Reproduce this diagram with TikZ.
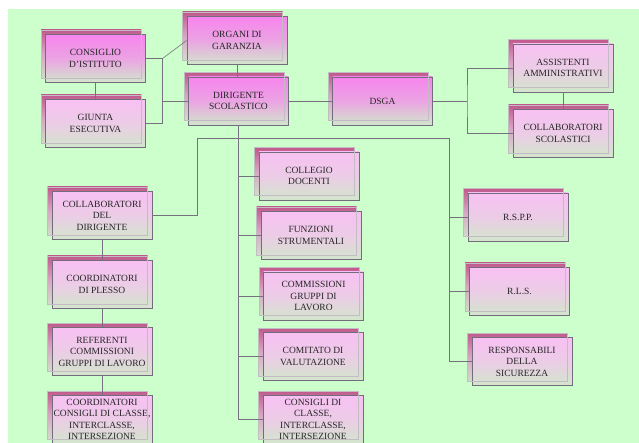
\documentclass[tikz,border=0pt]{standalone}
\usepackage{fontspec}
\setmainfont{Liberation Serif}
\definecolor{bgc}{HTML}{CCFFCC}
\definecolor{majtop}{HTML}{F784EE}
\definecolor{mintop}{HTML}{F8C0F3}
\definecolor{boxbot}{HTML}{D2E6CC}
\definecolor{backtop}{HTML}{C05A8C}
\definecolor{backmid}{HTML}{D8A6C4}
\definecolor{backbot}{HTML}{D2DCCA}
\definecolor{backline}{HTML}{C4BCC4}
\definecolor{bordc}{HTML}{736C7C}
\definecolor{linec}{HTML}{77707F}
\definecolor{txtc}{HTML}{262626}
\tikzset{
  ubox/.style={minimum width=100pt, minimum height=48pt, inner sep=0pt, align=center,
    font=\fontsize{9.5}{11.5}\selectfont, text=txtc, draw=bordc, line width=0.7pt},
  conn/.style={draw=linec, line width=0.6pt},
}
\newcommand\mkbox[5]{%
  \shade[top color=backtop, bottom color=backbot, middle color=backmid] (#2-54.5,#3-28.5) rectangle ++(100,48);
  \node[ubox, top color=#4, bottom color=boxbot, middle color=#4!68!boxbot] (#1) at (#2,#3) {#5};
  \draw[backline, line width=0.5pt] (#2-54.5,#3-28.5) rectangle ++(100,48);
}
\begin{document}
\begin{tikzpicture}[x=1pt,y=-1pt]
\useasboundingbox (0,0) rectangle (639,443);
\fill[white] (0,0) rectangle (639,443);
\fill[bgc] (8,9) rectangle (639,443);

\mkbox{cons}{95.5}{58.5}{majtop}{CONSIGLIO\\D’ISTITUTO}
\mkbox{giunta}{95.5}{123.5}{mintop}{GIUNTA\\ESECUTIVA}
\mkbox{org}{237}{40.5}{majtop}{ORGANI DI\\GARANZIA}
\mkbox{dir}{238.5}{101}{majtop}{DIRIGENTE\\SCOLASTICO}
\mkbox{dsga}{382.5}{101}{majtop}{DSGA}
\mkbox{ass}{563}{68}{mintop}{ASSISTENTI\\AMMINISTRATIVI}
\mkbox{cs}{563}{133.5}{mintop}{COLLABORATORI\\SCOLASTICI}
\mkbox{coll}{309}{176}{mintop}{COLLEGIO\\DOCENTI}
\mkbox{fun}{311}{235.5}{mintop}{FUNZIONI\\STRUMENTALI}
\mkbox{com}{313.5}{296}{mintop}{COMMISSIONI\\GRUPPI DI\\LAVORO}
\mkbox{cval}{313}{356.5}{mintop}{COMITATO DI\\VALUTAZIONE}
\mkbox{cdc}{313}{419.5}{mintop}{CONSIGLI DI\\CLASSE,\\INTERCLASSE,\\INTERSEZIONE}
\mkbox{cdir}{102}{215.5}{mintop}{COLLABORATORI\\DEL\\DIRIGENTE}
\mkbox{cpl}{102}{284.5}{mintop}{COORDINATORI\\DI PLESSO}
\mkbox{ref}{102}{351.5}{mintop}{REFERENTI\\COMMISSIONI\\GRUPPI DI LAVORO}
\mkbox{ccc}{102}{419.5}{mintop}{COORDINATORI\\CONSIGLI DI CLASSE,\\INTERCLASSE,\\INTERSEZIONE}
\mkbox{rspp}{518}{217}{mintop}{R.S.P.P.}
\mkbox{rls}{519.5}{291.5}{mintop}{R.L.S.}
\mkbox{resp}{522}{361.5}{mintop}{RESPONSABILI\\DELLA\\SICUREZZA}

% left group
\coordinate (jl) at (162.5,58.5);
\draw[conn] (cons.east) -- (jl) -- (org.west);
\draw[conn] (jl) |- (giunta.east);
\draw[conn] (dir.west -| jl) -- (dir.west);
\draw[conn] (cons.south) -- (giunta.north);
\draw[conn] (org.south) -- (org.south |- dir.north);
% DSGA group
\draw[conn] (dir.east) -- (dsga.west);
\coordinate (jr) at (467,101);
\draw[conn] (dsga.east) -- (jr);
\draw[conn] (ass.west) -| (jr) |- (cs.west);
\draw[conn] (ass.south) -- (cs.north);
% central column
\draw[conn] (dir.south) |- (cdc.west);
\foreach \n in {coll,fun,com,cval}{\draw[conn] (\n.west) -- (\n.west -| dir.south);}
% horizontal bar
\coordinate (hl) at (197,138);
\coordinate (hr) at (449,138);
\draw[conn] (cdir.east) -| (hl) -- (hr) |- (resp.west);
\draw[conn] (rspp.west) -- (rspp.west -| hr);
\draw[conn] (rls.west) -- (rls.west -| hr);
% left column
\draw[conn] (cdir.south) -- (cpl.north);
\draw[conn] (cpl.south) -- (ref.north);
\draw[conn] (ref.south) -- (ccc.north);
\end{tikzpicture}
\end{document}
